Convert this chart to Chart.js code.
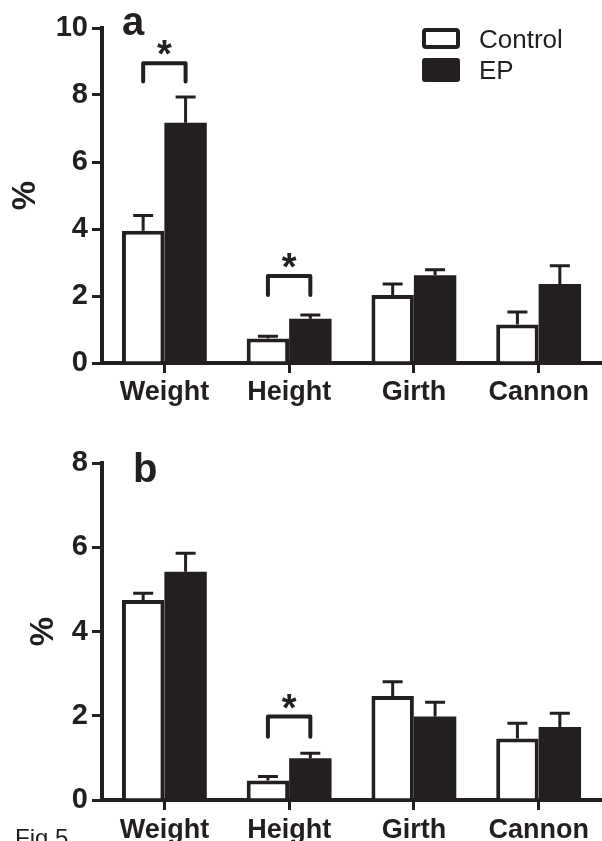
<!DOCTYPE html>
<html>
<head>
<meta charset="utf-8">
<script src="https://cdn.jsdelivr.net/npm/chart.js@4/dist/chart.umd.min.js"></script>
<style>
  html, body { margin: 0; padding: 0; background: #ffffff; }
  body { width: 602px; height: 841px; position: relative; overflow: hidden; }
  canvas { position: absolute; left: 0; display: block; }
  #ca { top: 0; }
  #cb { top: 420px; }
</style>
</head>
<body>
<canvas id="ca" width="602" height="420"></canvas>
<canvas id="cb" width="602" height="421"></canvas>
<script>
// ---------- data ----------
const categories = ['Weight', 'Height', 'Girth', 'Cannon'];
const seriesNames = ['Control', 'EP'];

// panel a
const controlA    = [3.95, 0.73, 2.03, 1.15];
const controlErrA = [0.45, 0.07, 0.33, 0.37];
const epA         = [7.17, 1.32, 2.62, 2.36];
const epErrA      = [0.77, 0.11, 0.16, 0.54];
const yTicksA     = [0, 2, 4, 6, 8, 10];
const sigA        = [ { cat: 0, level: 8.95, legEnd: 8.40 }, { cat: 1, level: 2.60, legEnd: 2.03 } ];

// panel b
const controlB    = [4.75, 0.46, 2.47, 1.46];
const controlErrB = [0.16, 0.10, 0.34, 0.36];
const epB         = [5.42, 0.99, 1.98, 1.73];
const epErrB      = [0.44, 0.12, 0.34, 0.33];
const yTicksB     = [0, 2, 4, 6, 8];
const sigB        = [ { cat: 1, level: 1.98, legEnd: 1.50 } ];

// ---------- style ----------
const INK = '#231f20';
const FONT = '"Liberation Sans", Arial, Helvetica, sans-serif';
Chart.defaults.font.family = FONT;
Chart.defaults.color = INK;

const errorBars = {
  id: 'errorBars',
  afterDatasetsDraw(chart) {
    const ctx = chart.ctx, ys = chart.scales.y;
    chart.data.datasets.forEach((ds, di) => {
      const meta = chart.getDatasetMeta(di);
      meta.data.forEach((bar, i) => {
        const v = ds.data[i], e = ds.errors[i];
        const yBar = ys.getPixelForValue(v);
        const yTop = ys.getPixelForValue(v + e);
        ctx.save();
        ctx.strokeStyle = INK;
        ctx.lineWidth = 3;
        ctx.beginPath();
        ctx.moveTo(bar.x, yBar);
        ctx.lineTo(bar.x, yTop);
        ctx.moveTo(bar.x - 10, yTop);
        ctx.lineTo(bar.x + 10, yTop);
        ctx.stroke();
        ctx.restore();
      });
    });
  }
};

const sigBrackets = {
  id: 'sigBrackets',
  afterDatasetsDraw(chart, args, opts) {
    const ctx = chart.ctx, ys = chart.scales.y;
    const m0 = chart.getDatasetMeta(0), m1 = chart.getDatasetMeta(1);
    (opts.items || []).forEach(b => {
      const x0 = m0.data[b.cat].x, x1 = m1.data[b.cat].x;
      const yl = ys.getPixelForValue(b.level), ye = ys.getPixelForValue(b.legEnd);
      ctx.save();
      ctx.strokeStyle = INK;
      ctx.lineWidth = 4;
      ctx.lineJoin = 'round';
      ctx.lineCap = 'round';
      ctx.beginPath();
      ctx.moveTo(x0, ye); ctx.lineTo(x0, yl); ctx.lineTo(x1, yl); ctx.lineTo(x1, ye);
      ctx.stroke();
      ctx.fillStyle = INK;
      ctx.font = 'bold 38px ' + FONT;
      ctx.textAlign = 'center';
      ctx.textBaseline = 'alphabetic';
      ctx.fillText('*', (x0 + x1) / 2, yl - 18 + 0.58 * 38);
      ctx.restore();
    });
  }
};

const annotations = {
  id: 'annotations',
  afterDraw(chart, args, opts) {
    const ctx = chart.ctx;
    ctx.save();
    ctx.fillStyle = INK;
    ctx.textAlign = 'left';
    ctx.textBaseline = 'alphabetic';
    ctx.font = 'bold 40px ' + FONT;
    ctx.fillText(opts.letter, opts.letterX, opts.letterY);
    if (opts.legend) {
      const ds = chart.data.datasets;
      // Control box (outlined)
      ctx.strokeStyle = ds[0].borderColor;
      ctx.lineWidth = 4;
      ctx.fillStyle = ds[0].backgroundColor;
      ctx.beginPath();
      ctx.roundRect(424, 30, 34, 17, 2);
      ctx.fill();
      ctx.stroke();
      // EP box (filled)
      ctx.fillStyle = ds[1].backgroundColor;
      ctx.beginPath();
      ctx.roundRect(422, 58, 38, 24, 3);
      ctx.fill();
      ctx.fillStyle = INK;
      ctx.font = '26px ' + FONT;
      ctx.fillText(ds[0].label, 479, 48);
      ctx.fillText(ds[1].label, 479, 79);
    }
    if (opts.caption) {
      ctx.font = '24px ' + FONT;
      ctx.fillText(opts.caption, 15, opts.captionY);
    }
    ctx.restore();
  }
};

function makeChart(id, ctrl, ctrlErr, ep, epErr, yTicks, sig, p) {
  return new Chart(document.getElementById(id), {
    type: 'bar',
    data: {
      labels: categories,
      datasets: [
        { label: seriesNames[0], data: ctrl, errors: ctrlErr,
          backgroundColor: '#ffffff', borderColor: INK, borderWidth: 4, borderSkipped: 'start' },
        { label: seriesNames[1], data: ep, errors: epErr,
          backgroundColor: INK, borderColor: INK, borderWidth: 0 }
      ]
    },
    options: {
      responsive: false,
      animation: false,
      devicePixelRatio: 1,
      categoryPercentage: 0.68,
      barPercentage: 1.0,
      layout: { padding: { left: 0, right: 1, top: p.top, bottom: 0 } },
      plugins: {
        legend: { display: false },
        tooltip: { enabled: false },
        sigBrackets: { items: sig },
        annotations: p.ann
      },
      scales: {
        x: {
          offset: true,
          grid: { display: true, offset: false, drawOnChartArea: false, drawTicks: true,
                  tickLength: 10, color: INK, lineWidth: 3 },
          border: { display: true, color: INK, width: 4 },
          ticks: { font: { size: 27, weight: 'bold' }, color: INK, padding: p.xPad, maxRotation: 0 },
          afterFit: s => { s.height = p.xHeight; }
        },
        y: {
          min: yTicks[0],
          max: yTicks[yTicks.length - 1],
          afterBuildTicks: s => { s.ticks = yTicks.map(v => ({ value: v })); },
          grid: { display: true, drawOnChartArea: false, drawTicks: true,
                  tickLength: 10, color: INK, lineWidth: 3 },
          border: { display: true, color: INK, width: 4 },
          ticks: { font: { size: 29, weight: 'bold' }, color: INK, padding: 4 },
          title: { display: true, text: '%', color: INK,
                   font: { size: 33, weight: 'bold' }, padding: { top: p.titlePad, bottom: 0 } },
          afterFit: s => { s.width = 102; }
        }
      }
    },
    plugins: [errorBars, sigBrackets, annotations]
  });
}

makeChart('ca', controlA, controlErrA, epA, epErrA, yTicksA, sigA, {
  top: 28, xHeight: 57, xPad: 3, titlePad: 6,
  ann: { letter: 'a', letterX: 122, letterY: 35, legend: true }
});
makeChart('cb', controlB, controlErrB, epB, epErrB, yTicksB, sigB, {
  top: 43, xHeight: 41, xPad: 4, titlePad: 24,
  ann: { letter: 'b', letterX: 133, letterY: 62, legend: false, caption: 'Fig 5', captionY: 426 }
});
</script>
</body>
</html>
